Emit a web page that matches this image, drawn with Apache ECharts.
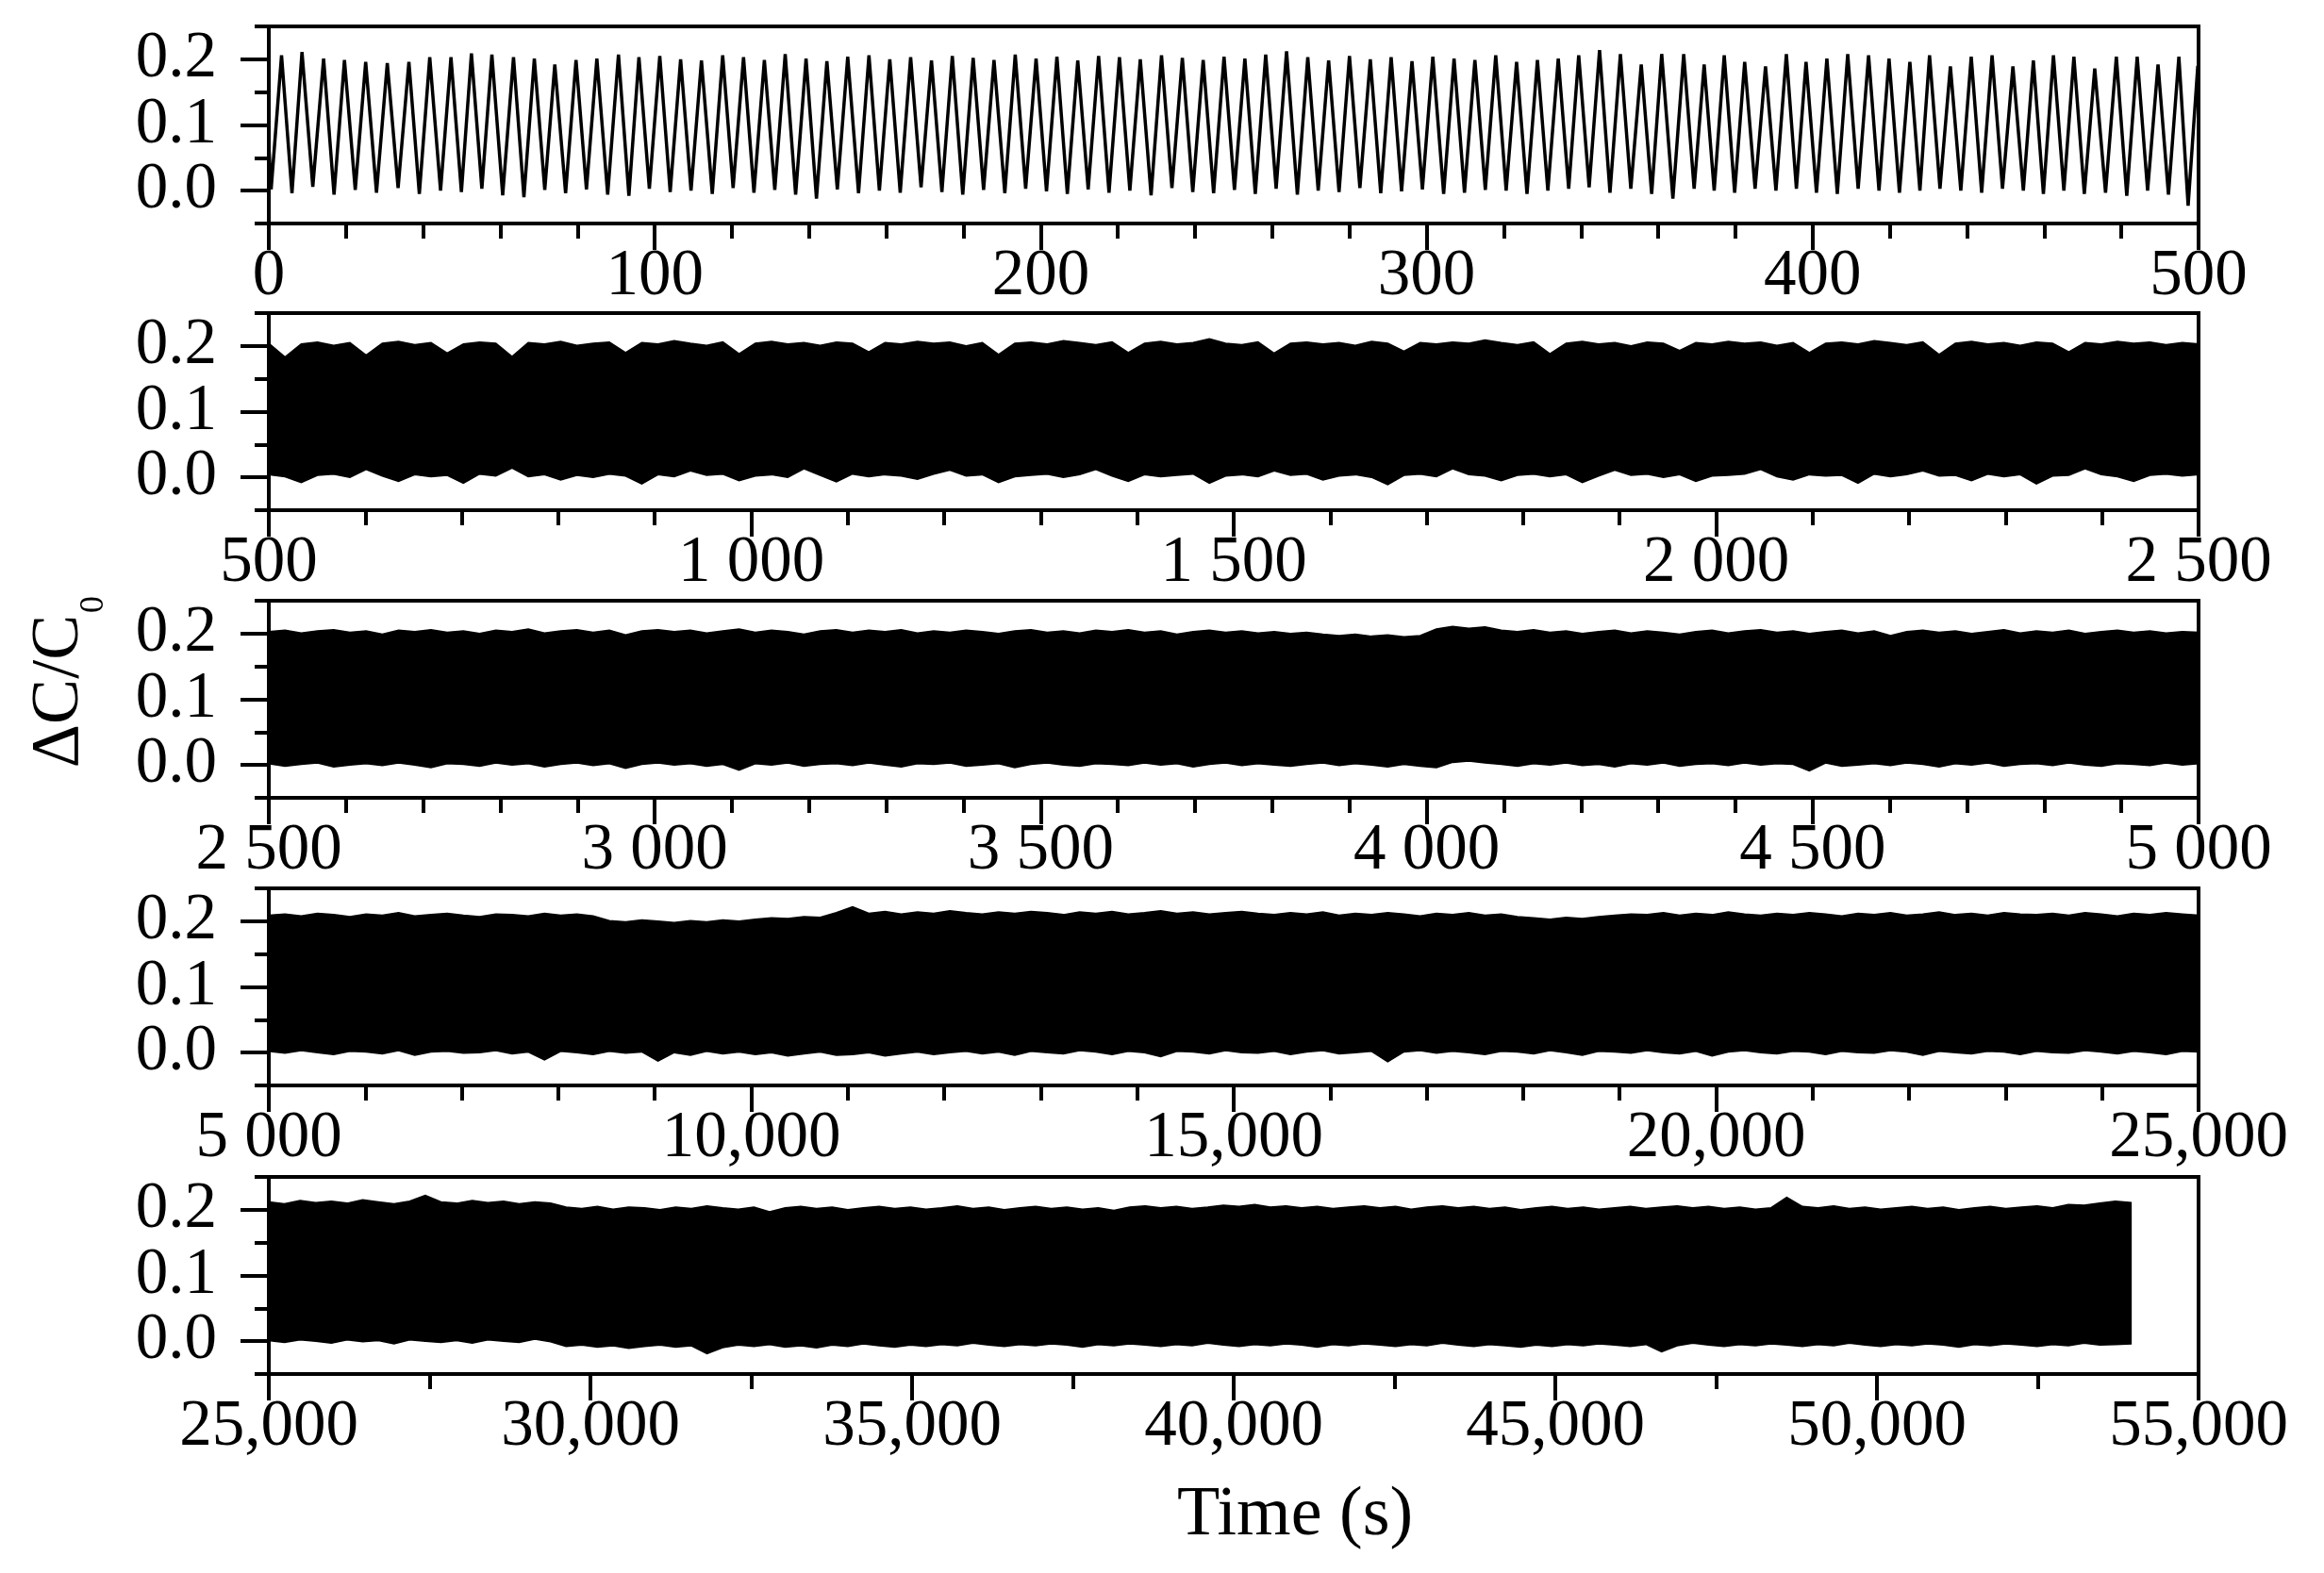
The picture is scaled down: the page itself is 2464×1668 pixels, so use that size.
<!DOCTYPE html>
<html><head><meta charset="utf-8">
<script src="https://cdn.jsdelivr.net/npm/echarts@6/dist/echarts.min.js"></script>
<style>html,body{margin:0;padding:0;background:#fff}#c{width:2464px;height:1668px}</style>
</head><body><div id="c"></div>
<script>
// ---------- DATA ----------
// Panel 1 (0–500 s): individual oscillation cycles
const p1Start = [0, 0.07];
const p1PeakT = [3.3,8.6,14.2,19.6,25.1,30.7,36.3,41.7,47.2,52.5,57.8,63.4,68.8,74.1,79.6,85.0,90.6,95.9,
101.3,106.7,112.1,117.6,123.0,128.4,133.8,139.2,144.6,150.0,155.5,160.9,166.3,171.7,177.1,182.5,187.9,193.4,198.8,204.2,209.6,215.0,220.4,225.8,231.3,236.7,242.1,247.5,252.9,258.3,263.7,269.2,274.6,280.0,285.4,290.8,296.2,301.6,307.1,312.5,317.9,
323.3,328.7,334.1,339.4,344.8,350.2,355.6,360.9,366.6,371.9,377.1,382.4,387.8,393.2,398.3,403.7,409.1,414.5,419.8,425.2,430.3,435.7,441.1,446.5,451.9,457.2,462.4,467.7,473.1,478.7,484.1,489.5,494.9,499.8];
const p1PeakV = [0.206,0.211,0.201,0.199,0.196,0.194,0.196,0.203,0.203,0.209,0.207,0.203,0.201,0.192,0.199,0.201,0.207,0.203,
0.205,0.2,0.198,0.206,0.203,0.199,0.208,0.201,0.197,0.204,0.206,0.2,0.203,0.198,0.205,0.202,0.199,0.207,0.201,0.204,0.198,0.205,0.203,0.2,0.206,0.202,0.199,0.204,0.201,0.207,0.212,0.203,0.198,0.205,0.2,0.203,0.197,0.204,0.201,0.199,0.206,
0.196,0.199,0.201,0.206,0.214,0.208,0.192,0.208,0.208,0.192,0.206,0.196,0.189,0.208,0.196,0.201,0.208,0.206,0.201,0.196,0.206,0.189,0.204,0.206,0.189,0.198,0.206,0.204,0.186,0.204,0.204,0.192,0.204,0.19];
const p1TroughT = [0.6,6.0,11.4,16.9,22.4,27.9,33.5,39.0,44.5,49.9,55.2,60.6,66.1,71.5,76.9,82.3,87.8,93.3,
98.6,104.0,109.4,114.9,120.3,125.7,131.1,136.5,141.9,147.3,152.8,158.2,163.6,169.0,174.4,179.8,185.2,190.7,196.1,201.5,206.9,212.3,217.7,223.1,228.6,234.0,239.4,244.8,250.2,255.6,261.0,266.5,271.9,277.3,282.7,288.1,293.5,298.9,304.4,309.8,315.2,
320.6,326.0,331.4,336.8,342.1,347.5,352.9,358.3,363.8,369.3,374.5,379.8,385.1,390.5,395.8,401.0,406.4,411.8,417.2,422.5,427.8,433.0,438.4,443.8,449.2,454.6,459.8,465.1,470.4,475.9,481.4,486.8,492.2,497.3];
const p1TroughV = [0.002,-0.004,0.006,-0.006,0.001,-0.003,0.004,-0.005,0.0,-0.002,0.003,-0.007,-0.01,0.001,-0.004,0.002,-0.006,-0.008,
0.003,-0.002,0.0,-0.005,0.004,-0.003,0.001,-0.006,-0.012,0.002,-0.004,0.0,-0.003,0.005,-0.002,-0.006,0.001,-0.004,0.003,-0.001,-0.005,0.002,-0.003,0.0,-0.007,0.004,-0.002,-0.004,0.001,-0.005,0.003,-0.006,0.0,-0.002,0.004,-0.004,-0.001,0.002,-0.005,-0.003,0.001,
0.0,-0.005,0.0,0.003,0.005,-0.003,0.003,-0.005,-0.012,0.003,0.0,-0.003,0.003,0.0,0.003,-0.003,-0.005,0.003,0.0,-0.003,0.0,0.003,0.0,-0.003,0.003,0.0,-0.005,0.0,-0.005,-0.003,-0.008,0.0,-0.006,-0.023];

// Panels 2–5: upper / lower envelope of the dense signal, evenly sampled across each span
const p2Span = [500, 2500];
const p2Upper = [0.204,0.183,0.203,0.206,0.201,0.205,0.186,0.204,0.207,0.202,
0.205,0.189,0.203,0.206,0.204,0.184,0.205,0.203,0.207,0.201,
0.204,0.206,0.19,0.205,0.203,0.208,0.204,0.201,0.206,0.188,
0.204,0.207,0.203,0.205,0.201,0.206,0.204,0.191,0.205,0.203,
0.207,0.204,0.206,0.2,0.205,0.187,0.204,0.206,0.203,0.208,
0.205,0.202,0.206,0.19,0.204,0.207,0.203,0.205,0.211,0.204,
0.202,0.206,0.189,0.204,0.206,0.203,0.205,0.201,0.207,0.204,
0.192,0.205,0.203,0.206,0.204,0.209,0.205,0.202,0.206,0.188,
0.204,0.207,0.203,0.205,0.2,0.206,0.204,0.193,0.205,0.203,
0.207,0.204,0.206,0.201,0.205,0.19,0.204,0.206,0.203,0.208,
0.205,0.202,0.206,0.187,0.204,0.207,0.203,0.205,0.201,0.206,
0.204,0.191,0.205,0.203,0.207,0.204,0.206,0.202,0.205,0.203];
const p2Lower = [0.004,0.001,-0.008,0.003,0.005,0.0,0.012,0.002,-0.006,0.004,
0.001,0.003,-0.009,0.005,0.002,0.014,0.001,0.004,-0.004,0.003,
0.0,0.005,0.002,-0.01,0.004,0.001,0.01,0.003,0.005,-0.005,
0.002,0.004,0.0,0.013,0.003,-0.007,0.005,0.001,0.004,0.002,
-0.003,0.005,0.011,0.002,0.004,-0.008,0.001,0.003,0.005,0.0,
0.004,0.012,0.002,-0.006,0.004,0.001,0.003,0.005,-0.009,0.002,
0.004,0.001,0.01,0.003,0.005,-0.004,0.002,0.004,0.0,-0.011,
0.003,0.005,0.001,0.013,0.004,0.002,-0.005,0.003,0.005,0.001,
0.004,-0.008,0.002,0.011,0.003,0.005,0.0,0.004,-0.006,0.002,
0.003,0.005,0.012,0.001,-0.004,0.004,0.002,0.003,-0.009,0.005,
0.001,0.004,0.01,0.002,0.003,-0.005,0.005,0.001,0.004,-0.01,
0.002,0.003,0.013,0.004,0.001,-0.006,0.003,0.005,0.002,0.004];

const p3Span = [2500, 5000];
const p3Upper = [0.203,0.205,0.201,0.204,0.206,0.202,0.204,0.199,0.205,0.203,
0.206,0.202,0.204,0.2,0.205,0.203,0.207,0.201,0.204,0.206,
0.202,0.205,0.198,0.204,0.206,0.203,0.205,0.201,0.204,0.207,
0.202,0.205,0.203,0.199,0.204,0.206,0.202,0.205,0.203,0.206,
0.201,0.204,0.202,0.205,0.203,0.2,0.204,0.206,0.202,0.204,
0.201,0.205,0.203,0.206,0.202,0.204,0.199,0.203,0.205,0.202,
0.204,0.201,0.203,0.2,0.202,0.199,0.197,0.199,0.196,0.198,
0.195,0.197,0.207,0.211,0.208,0.21,0.205,0.203,0.206,0.202,
0.204,0.2,0.203,0.205,0.201,0.204,0.202,0.199,0.203,0.205,
0.201,0.204,0.206,0.202,0.204,0.2,0.203,0.205,0.201,0.204,
0.197,0.203,0.205,0.202,0.204,0.2,0.203,0.206,0.201,0.204,
0.202,0.205,0.2,0.203,0.205,0.202,0.204,0.201,0.203,0.202];
const p3Lower = [0.002,-0.002,0.001,0.003,-0.003,0.0,0.002,-0.001,0.003,0.0,
-0.004,0.002,0.001,-0.002,0.003,0.0,0.002,-0.003,0.001,0.003,
-0.001,0.002,-0.005,0.001,0.003,0.0,0.002,-0.002,0.001,-0.008,
0.002,0.0,0.003,-0.002,0.001,0.002,-0.001,0.003,0.0,-0.003,
0.002,0.001,0.003,-0.002,0.0,0.002,-0.004,0.001,0.003,0.0,
-0.002,0.002,0.001,-0.001,0.003,0.0,0.002,-0.003,0.001,0.003,
-0.001,0.002,0.0,-0.002,0.001,0.003,-0.001,0.002,0.0,-0.003,
0.001,-0.002,-0.004,0.004,0.006,0.003,0.001,-0.002,0.002,0.0,
0.003,-0.001,0.001,-0.003,0.002,0.0,0.003,-0.002,0.001,0.002,
-0.001,0.003,0.0,0.002,0.001,-0.009,0.003,-0.002,0.0,0.002,
-0.001,0.003,0.001,-0.003,0.002,0.0,0.003,-0.002,0.001,0.002,
-0.001,0.003,0.0,-0.002,0.002,0.001,-0.001,0.003,0.0,0.002];

const p4Span = [5000, 25000];
const p4Upper = [0.209,0.211,0.208,0.212,0.21,0.207,0.211,0.209,0.213,0.208,
0.21,0.212,0.209,0.207,0.211,0.21,0.208,0.212,0.209,0.211,
0.208,0.201,0.199,0.202,0.2,0.198,0.201,0.199,0.202,0.2,
0.203,0.205,0.204,0.207,0.206,0.213,0.222,0.212,0.215,0.211,
0.214,0.212,0.216,0.213,0.211,0.214,0.212,0.215,0.213,0.21,
0.214,0.212,0.215,0.211,0.213,0.216,0.212,0.214,0.211,0.213,
0.215,0.212,0.21,0.213,0.211,0.214,0.209,0.212,0.21,0.213,
0.211,0.208,0.212,0.21,0.213,0.209,0.211,0.207,0.205,0.203,
0.206,0.204,0.207,0.209,0.211,0.21,0.213,0.209,0.212,0.21,
0.214,0.211,0.209,0.212,0.21,0.213,0.211,0.208,0.212,0.21,
0.213,0.209,0.211,0.214,0.21,0.212,0.209,0.213,0.211,0.21,
0.212,0.209,0.213,0.211,0.208,0.212,0.21,0.213,0.211,0.209];
const p4Lower = [0.002,-0.001,0.003,0.0,-0.003,0.002,0.001,-0.002,0.003,-0.004,
0.001,0.002,-0.001,0.0,0.003,-0.002,0.001,-0.011,0.002,0.0,
-0.003,0.002,-0.001,0.001,-0.013,0.0,-0.004,0.002,-0.002,0.001,
-0.003,0.0,-0.005,-0.002,0.001,-0.004,-0.003,0.0,-0.005,-0.002,
0.001,-0.003,0.0,0.002,-0.002,0.001,-0.004,0.002,0.0,-0.002,
0.003,0.001,-0.003,0.002,0.0,-0.006,0.002,0.001,-0.002,0.003,
0.0,-0.001,0.002,-0.003,0.001,0.003,-0.002,0.0,0.002,-0.014,
0.001,0.003,-0.001,0.002,0.0,-0.003,0.002,0.001,-0.002,0.003,
0.0,-0.004,0.002,0.001,-0.001,0.003,0.0,-0.002,0.002,-0.005,
0.001,0.003,0.0,-0.002,0.002,0.001,-0.003,0.002,0.0,-0.001,
0.003,0.001,-0.004,0.002,0.0,-0.002,0.002,0.001,-0.003,0.002,
0.0,-0.001,0.003,0.001,-0.002,0.002,0.0,-0.003,0.002,0.001];

const p5Span = [25000, 53950];
const p5Upper = [0.212,0.209,0.214,0.211,0.213,0.21,0.215,0.212,0.209,0.213,
0.222,0.212,0.21,0.214,0.211,0.213,0.209,0.212,0.21,0.204,
0.202,0.205,0.201,0.204,0.203,0.2,0.204,0.202,0.206,0.203,
0.201,0.204,0.197,0.203,0.205,0.202,0.204,0.2,0.203,0.205,
0.202,0.204,0.201,0.203,0.206,0.202,0.204,0.2,0.203,0.205,
0.202,0.204,0.201,0.203,0.199,0.204,0.206,0.203,0.205,0.202,
0.204,0.207,0.205,0.208,0.204,0.206,0.203,0.205,0.202,0.204,
0.206,0.203,0.205,0.201,0.204,0.206,0.203,0.205,0.202,0.204,
0.2,0.203,0.205,0.202,0.204,0.201,0.203,0.205,0.202,0.204,
0.206,0.203,0.205,0.202,0.204,0.201,0.203,0.219,0.205,0.203,
0.206,0.202,0.204,0.201,0.203,0.205,0.202,0.204,0.2,0.203,
0.205,0.202,0.204,0.206,0.203,0.208,0.207,0.21,0.213,0.211];
const p5Lower = [0.001,-0.002,0.002,0.0,-0.003,0.002,-0.001,0.001,-0.004,0.002,
0.0,-0.002,0.001,-0.003,0.002,0.0,-0.002,0.003,-0.001,-0.008,
-0.006,-0.009,-0.007,-0.011,-0.008,-0.006,-0.009,-0.007,-0.019,-0.01,
-0.006,-0.008,-0.005,-0.009,-0.007,-0.01,-0.006,-0.008,-0.004,-0.007,
-0.009,-0.006,-0.008,-0.005,-0.007,-0.003,-0.006,-0.008,-0.005,-0.007,
-0.004,-0.006,-0.009,-0.005,-0.007,-0.004,-0.006,-0.008,-0.005,-0.007,
-0.003,-0.006,-0.008,-0.005,-0.007,-0.004,-0.006,-0.009,-0.005,-0.007,
-0.004,-0.006,-0.008,-0.005,-0.007,-0.003,-0.006,-0.008,-0.005,-0.007,
-0.009,-0.006,-0.008,-0.005,-0.007,-0.004,-0.006,-0.008,-0.005,-0.016,
-0.007,-0.003,-0.006,-0.008,-0.005,-0.007,-0.004,-0.006,-0.008,-0.005,
-0.007,-0.003,-0.006,-0.008,-0.005,-0.007,-0.004,-0.006,-0.009,-0.005,
-0.007,-0.004,-0.006,-0.008,-0.005,-0.007,-0.003,-0.006,-0.005,-0.004];

// Axis ranges and tick labels
const p1Range = [0, 500, 100];
const p2Range = [500, 2500, 500];
const p3Range = [2500, 5000, 500];
const p4Range = [5000, 25000, 5000];
const p5Range = [25000, 55000, 5000];
const p1Ticks = ['0','100','200','300','400','500'];
const p2Ticks = ['500','1 000','1 500','2 000','2 500'];
const p3Ticks = ['2 500','3 000','3 500','4 000','4 500','5 000'];
const p4Ticks = ['5 000','10,000','15,000','20,000','25,000'];
const p5Ticks = ['25,000','30,000','35,000','40,000','45,000','50,000','55,000'];
const yRange = [-0.05, 0.25];
const yMajor = [0, 0.1, 0.2];
const yMinor = [-0.05, 0.05, 0.15, 0.25];
const yName = ['ΔC/C', '0'];
const xName = 'Time (s)';

// ---------- LAYOUT / STYLE ----------
const FONT = '"Liberation Serif","Times New Roman",serif';
const GRID_LEFT = 285, GRID_W = 2046, GRID_H = 209;
const GRID_TOPS = [28, 332, 637, 942, 1248];
const MINOR_SPLITS = [5, 5, 5, 5, 2];

const panels = [
  {range: p1Range, labels: p1Ticks},
  {range: p2Range, labels: p2Ticks},
  {range: p3Range, labels: p3Ticks},
  {range: p4Range, labels: p4Ticks},
  {range: p5Range, labels: p5Ticks}
];

function p1Data() {
  const d = [p1Start.slice()];
  const n = Math.min(p1PeakT.length, p1PeakV.length, p1TroughT.length, p1TroughV.length);
  for (let i = 0; i < n; i++) {
    d.push([p1TroughT[i], p1TroughV[i]]);
    d.push([p1PeakT[i], p1PeakV[i]]);
  }
  return d;
}
// Dense panels: filled envelope drawn as one polygon through the axis scales
function bandSeries(idx, span, upper, lower) {
  const n = Math.min(upper.length, lower.length);
  const data = [];
  for (let i = 0; i < n; i++) {
    const t = span[0] + (span[1] - span[0]) * i / (n - 1);
    data.push([t, lower[i], upper[i]]);
  }
  return {
    type: 'custom', xAxisIndex: idx, yAxisIndex: idx * 2, data: data, silent: true, animation: false,
    encode: {x: 0, y: [1, 2]},
    renderItem: function (params, api) {
      if (params.dataIndex !== 0) return null;
      const pts = [];
      for (let i = 0; i < data.length; i++) pts.push(api.coord([data[i][0], data[i][2]]));
      for (let i = data.length - 1; i >= 0; i--) pts.push(api.coord([data[i][0], data[i][1]]));
      return {type: 'polygon', shape: {points: pts},
        style: {fill: '#000', stroke: '#000', lineWidth: 1.5, lineJoin: 'miter'}};
    }
  };
}

const axisLineStyle = {color: '#000', width: 4};
const option = {
  animation: false,
  backgroundColor: '#fff',
  grid: panels.map((p, i) => ({left: GRID_LEFT, top: GRID_TOPS[i], width: GRID_W, height: GRID_H,
    show: true, borderColor: '#000', borderWidth: 4, backgroundColor: 'transparent', containLabel: false})),
  xAxis: panels.map((p, i) => ({
    gridIndex: i, type: 'value', position: 'bottom', min: p.range[0], max: p.range[1], interval: p.range[2],
    axisLine: {show: true, onZero: false, lineStyle: axisLineStyle},
    axisTick: {show: true, length: 28, lineStyle: axisLineStyle},
    minorTick: {show: true, splitNumber: MINOR_SPLITS[i], length: 16, lineStyle: axisLineStyle},
    splitLine: {show: false}, minorSplitLine: {show: false},
    axisLabel: {show: true, margin: 22, fontSize: 69, fontFamily: FONT, color: '#000',
      showMinLabel: true, showMaxLabel: true,
      formatter: v => { const k = Math.round((v - p.range[0]) / p.range[2]); return p.labels[k] !== undefined ? p.labels[k] : ''; }}
  })),
  yAxis: panels.flatMap((p, i) => ([
    {gridIndex: i, type: 'value', position: 'left', min: yRange[0], max: yRange[1], interval: 0.05,
      axisLine: {show: true, onZero: false, lineStyle: axisLineStyle},
      axisTick: {show: true, length: 30, customValues: yMajor, lineStyle: axisLineStyle},
      axisLabel: {show: true, customValues: yMajor, margin: 55, fontSize: 69, fontFamily: FONT, color: '#000',
        formatter: v => Number(v).toFixed(1)},
      splitLine: {show: false}},
    {gridIndex: i, type: 'value', position: 'left', offset: 0, min: yRange[0], max: yRange[1], interval: 0.05,
      axisLine: {show: false, onZero: false},
      axisTick: {show: true, length: 15, customValues: yMinor, lineStyle: axisLineStyle},
      axisLabel: {show: false}, splitLine: {show: false}}
  ])),
  series: [
    {type: 'line', xAxisIndex: 0, yAxisIndex: 0, data: p1Data(), showSymbol: false, symbol: 'none',
      lineStyle: {color: '#000', width: 3.5}, animation: false, silent: true},
    bandSeries(1, p2Span, p2Upper, p2Lower),
    bandSeries(2, p3Span, p3Upper, p3Lower),
    bandSeries(3, p4Span, p4Upper, p4Lower),
    bandSeries(4, p5Span, p5Upper, p5Lower)
  ],
  graphic: [
    {type: 'text', x: 63, y: 733, rotation: Math.PI / 2,
      style: {text: yName[0], font: '72px ' + FONT, fill: '#000', align: 'center', verticalAlign: 'middle'}},
    {type: 'text', x: 100, y: 641, rotation: Math.PI / 2,
      style: {text: yName[1], font: '36px ' + FONT, fill: '#000', align: 'center', verticalAlign: 'middle'}},
    {type: 'text', x: 1373, y: 1608,
      style: {text: xName, font: '74px ' + FONT, fill: '#000', align: 'center', verticalAlign: 'middle'}}
  ]
};
const chart = echarts.init(document.getElementById('c'), null, {renderer: 'canvas', width: 2464, height: 1668});
chart.setOption(option);
</script>
</body></html>
